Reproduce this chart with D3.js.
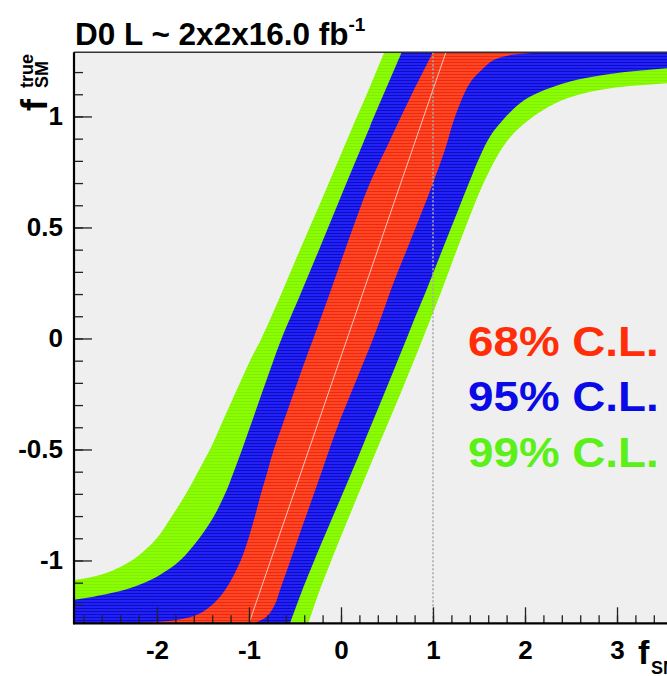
<!DOCTYPE html>
<html><head><meta charset="utf-8">
<script src="https://cdn.jsdelivr.net/npm/d3@7"></script>
<style>
body{margin:0;background:#fff}
svg{display:block}
text{font-family:"Liberation Sans",Arial,Helvetica,sans-serif;font-weight:bold}
</style>
</head><body>
<svg id="chart" width="667" height="676"></svg>
<script>
// ---------------- data ----------------
// band boundaries: y = f_SM^true, x = measured f_SM
const greenLeft = [
  {y:-1.283,x:-3.7},{y:-1.2,x:-3.5},{y:-1.106,x:-3.27},{y:-1.088,x:-2.902},{y:-1.065,x:-2.62},
  {y:-1.029,x:-2.40},{y:-0.98,x:-2.207},{y:-0.899,x:-2.0},{y:-0.8,x:-1.837},{y:-0.7,x:-1.685},
  {y:-0.6,x:-1.554},{y:-0.5,x:-1.424},{y:-0.4,x:-1.315},{y:-0.3,x:-1.207},{y:-0.2,x:-1.098},
  {y:-0.1,x:-0.989},{y:0,x:-0.865},{y:0.2,x:-0.65},{y:0.4,x:-0.446},{y:0.6,x:-0.236},
  {y:0.8,x:-0.03},{y:1.0,x:0.174},{y:1.134,x:0.315},{y:1.289,x:0.47}
];
const greenRight = [
  {y:-1.283,x:-0.355},{y:-1.133,x:-0.23},{y:-1.0,x:-0.105},{y:-0.75,x:0.14},{y:-0.5,x:0.39},
  {y:-0.25,x:0.645},{y:0,x:0.89},{y:0.1,x:0.985},{y:0.25,x:1.125},{y:0.4,x:1.26},
  {y:0.55,x:1.40},{y:0.7,x:1.55},{y:0.85,x:1.74},{y:0.925,x:1.88},{y:1.0,x:2.09},
  {y:1.06,x:2.33},{y:1.1,x:2.6},{y:1.13,x:2.98},{y:1.15,x:3.55},{y:1.17,x:4.2},{y:1.289,x:5.0}
];
const blueLeft = [
  {y:-1.283,x:-3.7},{y:-1.2,x:-3.3},{y:-1.178,x:-2.92},{y:-1.163,x:-2.69},{y:-1.148,x:-2.51},
  {y:-1.13,x:-2.33},{y:-1.103,x:-2.15},{y:-1.065,x:-1.97},{y:-1.0,x:-1.75},{y:-0.9,x:-1.54},
  {y:-0.8,x:-1.38},{y:-0.7,x:-1.26},{y:-0.6,x:-1.165},{y:-0.5,x:-1.075},{y:-0.4,x:-0.99},
  {y:-0.3,x:-0.905},{y:-0.2,x:-0.82},{y:-0.1,x:-0.735},{y:0,x:-0.645},{y:0.2,x:-0.44},
  {y:0.4,x:-0.239},{y:0.6,x:-0.04},{y:0.8,x:0.16},{y:0.954,x:0.315},{y:1.289,x:0.66}
];
const blueRight = [
  {y:-1.283,x:-0.554},{y:-1.133,x:-0.42},{y:-1.0,x:-0.29},{y:-0.5,x:0.22},{y:0,x:0.714},
  {y:0.1,x:0.81},{y:0.22,x:0.93},{y:0.34,x:1.045},{y:0.46,x:1.16},{y:0.58,x:1.275},
  {y:0.7,x:1.39},{y:0.82,x:1.51},{y:0.91,x:1.62},{y:0.984,x:1.76},{y:1.06,x:1.946},
  {y:1.104,x:2.13},{y:1.157,x:2.49},{y:1.187,x:2.85},{y:1.217,x:3.54},{y:1.24,x:4.5},{y:1.289,x:5.0}
];
const redLeft = [
  {y:-1.283,x:-2.4},{y:-1.268,x:-1.79},{y:-1.24,x:-1.54},{y:-1.2,x:-1.40},{y:-1.15,x:-1.29},
  {y:-1.1,x:-1.21},{y:-1.0,x:-1.09},{y:-0.9,x:-1.005},{y:-0.8,x:-0.935},{y:-0.7,x:-0.87},
  {y:-0.6,x:-0.80},{y:-0.5,x:-0.73},{y:-0.4,x:-0.645},{y:-0.3,x:-0.56},{y:-0.2,x:-0.475},
  {y:-0.1,x:-0.39},{y:0,x:-0.30},{y:0.2,x:-0.125},{y:0.4,x:0.045},{y:0.6,x:0.22},
  {y:0.7,x:0.315},{y:0.9,x:0.54},{y:1.1,x:0.77},{y:1.289,x:1.0}
];
const redRight = [
  {y:-1.283,x:-0.935},{y:-1.25,x:-0.80},{y:-1.2,x:-0.72},{y:-1.133,x:-0.663},{y:-1.0,x:-0.55},
  {y:-0.8,x:-0.38},{y:-0.6,x:-0.21},{y:-0.4,x:-0.04},{y:-0.2,x:0.155},{y:0,x:0.35},
  {y:0.1,x:0.44},{y:0.25,x:0.57},{y:0.4,x:0.715},{y:0.55,x:0.86},{y:0.7,x:1.0},
  {y:0.85,x:1.13},{y:1.0,x:1.24},{y:1.15,x:1.40},{y:1.21,x:1.53},{y:1.254,x:1.66},
  {y:1.28,x:1.9},{y:1.289,x:2.9}
];
const centerLine = [{y:-1.283,x:-1.0},{y:1.289,x:1.14}];
const referenceX = 1;
const xTickValues = [-2,-1,0,1,2,3];
const xTickLabels = ["-2","-1","0","1","2","3"];
const yTickValues = [-1,-0.5,0,0.5,1];
const yTickLabels = ["-1","-0.5","0","0.5","1"];
const legendLabels = ["68% C.L.","95% C.L.","99% C.L."];
const titleText = "D0 L ~ 2x2x16.0 fb";
const titleSup = "-1";

// ---------------- layout ----------------
const svg = d3.select("#chart");
const X0 = 74, X1 = 700, Y0 = 52.3, Y1 = 623.3;
const x = d3.scaleLinear().domain([-2.902, 3.902]).range([X0, X1]);
const y = d3.scaleLinear().domain([-1.283, 1.289]).range([Y1, Y0]);

const defs = svg.append("defs");
defs.append("clipPath").attr("id","plotClip").append("rect")
  .attr("x",X0).attr("y",Y0).attr("width",X1-X0).attr("height",Y1-Y0);
function stripe(id, base, dark){
  const p = defs.append("pattern").attr("id",id).attr("patternUnits","userSpaceOnUse")
    .attr("width",10).attr("height",3);
  p.append("rect").attr("width",10).attr("height",3).attr("fill",base);
  p.append("rect").attr("y",2).attr("width",10).attr("height",1).attr("fill",dark);
}
stripe("pGreen","#8afc04","#80f000");
stripe("pBlue","#2222f6","#0c0cc6");
stripe("pRed","#ff4624","#ec2a10");

// frame background
svg.append("rect").attr("x",X0).attr("y",Y0).attr("width",X1-X0).attr("height",Y1-Y0).attr("fill","#efefef");

const plot = svg.append("g").attr("clip-path","url(#plotClip)");
const ln = d3.line().x(d=>x(d.x)).y(d=>y(d.y)).curve(d3.curveCatmullRom.alpha(0.5));
function bandPath(left, right){
  const a = ln(left);
  const b = ln(right.slice().reverse());
  return a + "L" + b.slice(1) + "Z";
}
plot.append("path").attr("d",bandPath(greenLeft,greenRight)).attr("fill","url(#pGreen)");
plot.append("path").attr("d",bandPath(blueLeft,blueRight)).attr("fill","url(#pBlue)");
plot.append("path").attr("d",bandPath(redLeft,redRight)).attr("fill","url(#pRed)");
plot.append("path").attr("d",d3.line().x(d=>x(d.x)).y(d=>y(d.y))(centerLine))
  .attr("fill","none").attr("stroke","#f2c4bc").attr("stroke-width",1);
plot.append("line").attr("x1",x(referenceX)).attr("x2",x(referenceX)).attr("y1",Y0).attr("y2",Y1)
  .attr("stroke","#a8a8a8").attr("stroke-width",1.6).attr("stroke-dasharray","2,2");

// axes
const yMinor = d3.range(-12,13).map(i=>i/10);
const xMinor = d3.range(-14,20).map(i=>i/5);
const gy = svg.append("g").attr("transform",`translate(${X0},0)`);
gy.call(d3.axisLeft(y).tickValues(yMinor).tickSize(-9).tickFormat(""));
gy.select(".domain").remove();
const gyM = svg.append("g").attr("transform",`translate(${X0},0)`);
gyM.call(d3.axisLeft(y).tickValues(yTickValues).tickSize(-18).tickPadding(11)
  .tickFormat((d,i)=>yTickLabels[i]));
gyM.select(".domain").remove();
gyM.selectAll("text").attr("font-size",26).attr("fill","#000").attr("font-family",null);

const gx = svg.append("g").attr("transform",`translate(0,${Y1})`);
gx.call(d3.axisBottom(x).tickValues(xMinor).tickSize(-8).tickFormat(""));
gx.select(".domain").remove();
const gxM = svg.append("g").attr("transform",`translate(0,${Y1})`);
gxM.call(d3.axisBottom(x).tickValues(xTickValues).tickSize(-16).tickPadding(11)
  .tickFormat((d,i)=>xTickLabels[i]));
gxM.select(".domain").remove();
gxM.selectAll("text").attr("font-size",26).attr("fill","#000").attr("dy","0.95em").attr("font-family",null);
svg.selectAll(".tick line").attr("stroke","#222").attr("stroke-width",1.3);

// frame lines
svg.append("line").attr("x1",X0).attr("x2",X1).attr("y1",Y0).attr("y2",Y0).attr("stroke","#333").attr("stroke-width",1.5);
svg.append("line").attr("x1",X0).attr("x2",X0).attr("y1",Y0).attr("y2",Y1+1).attr("stroke","#000").attr("stroke-width",2.2);
svg.append("line").attr("x1",X0-1).attr("x2",X1).attr("y1",Y1).attr("y2",Y1).attr("stroke","#000").attr("stroke-width",2.2);

// title
const t = svg.append("text").attr("x",75).attr("y",45).attr("font-size",31.5).attr("fill","#000");
t.append("tspan").text(titleText);
t.append("tspan").attr("font-size",19).attr("dy",-14).text(titleSup);

// y axis title
const yl = svg.append("g").attr("transform","translate(47,52) rotate(-90)");
yl.append("text").attr("x",-59).attr("y",0).attr("font-size",36).text("f");
yl.append("text").attr("x",-36).attr("y",-14).attr("font-size",18).text("true");
yl.append("text").attr("x",-36).attr("y",1).attr("font-size",18).text("SM");

// x axis title
svg.append("text").attr("x",638).attr("y",664).attr("font-size",34).text("f");
svg.append("text").attr("x",651).attr("y",674).attr("font-size",18).text("SM");

// legend
const legendColors = ["#ff2e08","#0a0ae6","#5af018"];
legendLabels.forEach((s,i)=>{
  svg.append("text").attr("x",468).attr("y",356+i*55.5).attr("font-size",42)
    .attr("fill",legendColors[i]).attr("transform",`translate(${-468*0.09},0) scale(1.09,1)`).text(s);
});
</script>
</body></html>
